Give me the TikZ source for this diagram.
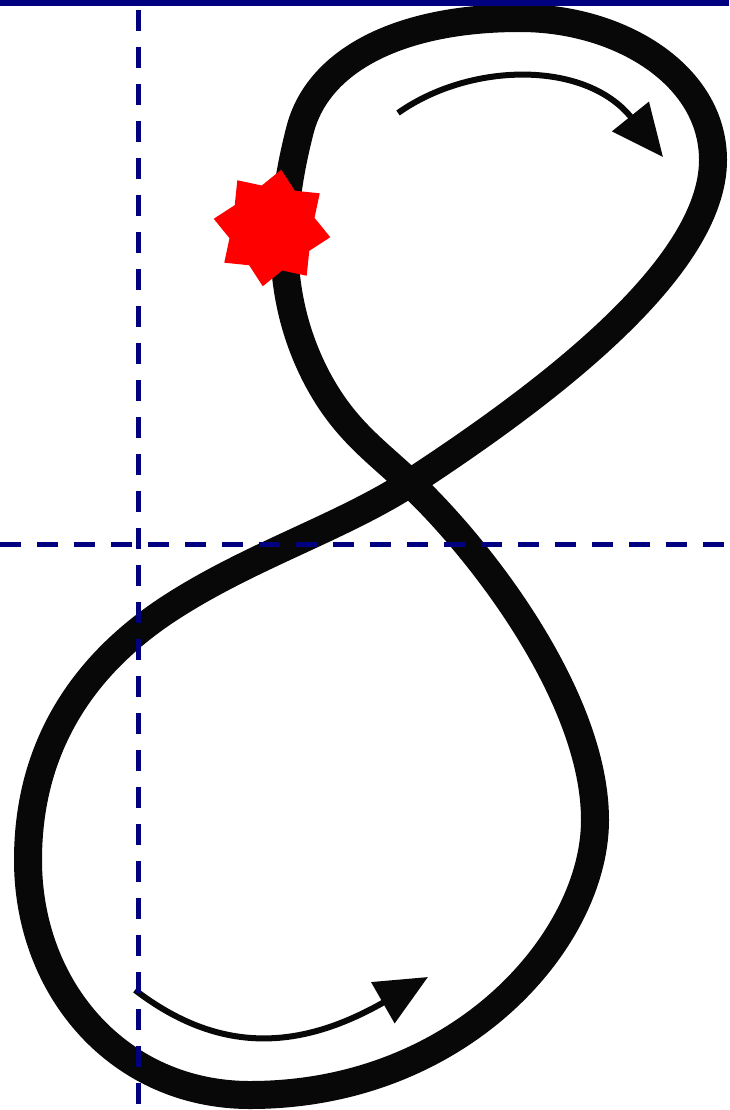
\documentclass[tikz,border=0pt]{standalone}
\usetikzlibrary{positioning,arrows.meta,calc,shapes.geometric}
\definecolor{navy}{HTML}{000080}
\definecolor{ink}{HTML}{080808}
\definecolor{starred}{HTML}{FF0000}
\tikzset{
  stroke/.style={draw=ink, line width=28pt, line join=round, line cap=round},
  guide/.style={draw=navy, line width=5pt, dash pattern=on 21pt off 16pt},
  topline/.style={draw=navy, line width=6pt},
  arr/.style={-{Triangle[length=52pt,width=46pt]}, line width=6pt, color=ink},
  startmark/.style={star, star points=8, star point ratio=1.35, fill=starred,
    inner sep=0pt, minimum size=118pt, rotate=-9},
}

\begin{document}
\begin{tikzpicture}[x=1pt,y=-1pt]
    \useasboundingbox (0,0) rectangle (729,1110);
    % figure eight, from the crossing, upper loop first
    \coordinate (cross) at (410,483);
    \draw[stroke] (cross)
      .. controls (540,398) and (713,270) .. (713,160)
      .. controls (713,75) and (620,18) .. (520,18)
      .. controls (400,18) and (318,60) .. (300,130)
      .. controls (282,200) and (270,290) .. (318,380)
      .. controls (345,430) and (375,450) .. (cross)
      .. controls (485,554) and (595,700) .. (595,820)
      .. controls (595,940) and (460,1095) .. (250,1095)
      .. controls (120,1095) and (28,990) .. (28,860)
      .. controls (28,740) and (90,660) .. (170,608)
      .. controls (250,556) and (340,528) .. (cross);
    \node[startmark] (start) at (272,228) {};
    % direction arrows
    \coordinate (a1) at (398,113);
    \coordinate (a2) at (663,157);
    \coordinate (b1) at (135,990);
    \coordinate (b2) at (428,977);
    \draw[arr] (a1) .. controls (470,62) and (585,60) .. (a2);
    \draw[arr] (b1) .. controls (220,1055) and (300,1050) .. (b2);
    % guide lines
    \coordinate (t1) at (0,3);
    \coordinate (t2) at (729,3);
    \coordinate (v1) at (138,0);
    \coordinate (v2) at (138,1110);
    \coordinate (h1) at (0,544);
    \coordinate (h2) at (729,544);
    \draw[guide, dash phase=27pt] (v1) -- (v2);
    \draw[guide] (h1) -- (h2);
    \draw[topline] (t1) -- (t2);
  \end{tikzpicture}
\end{document}
